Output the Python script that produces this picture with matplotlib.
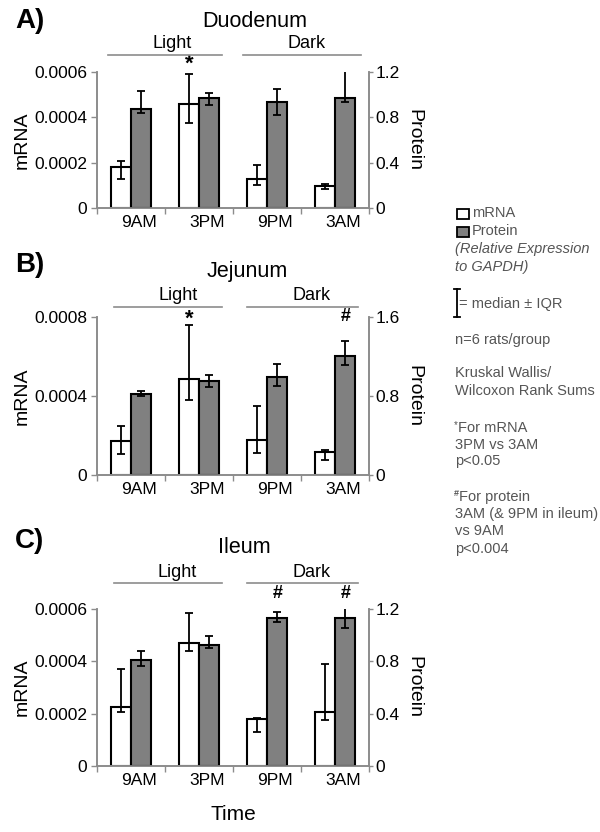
import numpy as np
import matplotlib
matplotlib.use("Agg")
import matplotlib.pyplot as plt
from matplotlib.transforms import ScaledTranslation
from matplotlib.patches import Rectangle
from matplotlib.lines import Line2D

plt.rcParams['font.family'] = ['Liberation Sans', 'DejaVu Sans']

times = ["9AM", "3PM", "9PM", "3AM"]
panels = ["A)", "B)", "C)"]
titles = ["Duodenum", "Jejunum", "Ileum"]

duo_mrna_med = [0.000182, 0.000459, 0.000129, 0.0000956]
duo_mrna_lo = [0.000126, 0.000375, 0.000100, 0.0000838]
duo_mrna_hi = [0.000206, 0.000591, 0.000191, 0.000107]
duo_prot_med = [0.874, 0.974, 0.935, 0.974]
duo_prot_lo = [0.838, 0.912, 0.824, 0.935]
duo_prot_hi = [1.029, 1.015, 1.050, 1.215]

jej_mrna_med = [0.000172, 0.000484, 0.000175, 0.000115]
jej_mrna_lo = [0.000108, 0.000378, 0.000112, 0.0000738]
jej_mrna_hi = [0.000249, 0.000760, 0.000348, 0.000129]
jej_prot_med = [0.824, 0.955, 0.989, 1.202]
jej_prot_lo = [0.800, 0.893, 0.903, 1.116]
jej_prot_hi = [0.848, 1.013, 1.123, 1.356]

ile_mrna_med = [0.000225, 0.000471, 0.000178, 0.000205]
ile_mrna_lo = [0.000205, 0.000439, 0.000130, 0.000174]
ile_mrna_hi = [0.000371, 0.000583, 0.000182, 0.000390]
ile_prot_med = [0.810, 0.922, 1.129, 1.129]
ile_prot_lo = [0.767, 0.899, 1.104, 1.052]
ile_prot_hi = [0.876, 0.994, 1.175, 1.243]

mrna_ticks = [[0, 0.0002, 0.0004, 0.0006], [0, 0.0004, 0.0008], [0, 0.0002, 0.0004, 0.0006]]
mrna_ticklabels = [["0", "0.0002", "0.0004", "0.0006"], ["0", "0.0004", "0.0008"], ["0", "0.0002", "0.0004", "0.0006"]]
prot_ticks = [[0, 0.4, 0.8, 1.2], [0, 0.8, 1.6], [0, 0.4, 0.8, 1.2]]
prot_ticklabels = [["0", "0.4", "0.8", "1.2"], ["0", "0.8", "1.6"], ["0", "0.4", "0.8", "1.2"]]

# significance marks: (panel, symbol, category index, series, y level)
sig_marks = [
    (0, "*", 1, "mrna", 0.000635),
    (1, "*", 1, "mrna", 0.000790),
    (1, "#", 3, "prot", 1.60),
    (2, "#", 2, "prot", 1.322),
    (2, "#", 3, "prot", 1.322),
]

legend_lines = [
    ("n=6 rats/group", 340),
    ("Kruskal Wallis/", 373),
    ("Wilcoxon Rank Sums", 391),
    ("3PM vs 3AM", 445),
    ("p<0.05", 461),
    ("3AM (& 9PM in ileum)", 514),
    ("vs 9AM", 531),
    ("p<0.004", 549),
]

mrna_data = [(duo_mrna_med, duo_mrna_lo, duo_mrna_hi),
             (jej_mrna_med, jej_mrna_lo, jej_mrna_hi),
             (ile_mrna_med, ile_mrna_lo, ile_mrna_hi)]
prot_data = [(duo_prot_med, duo_prot_lo, duo_prot_hi),
             (jej_prot_med, jej_prot_lo, jej_prot_hi),
             (ile_prot_med, ile_prot_lo, ile_prot_hi)]

W, H = 600, 832
fig = plt.figure(figsize=(6, 8.32), dpi=100)

def fx(x):
    return x / W

def fy(y):
    return 1 - y / H

# axes pixel boxes: left, right, top, bottom
boxes = [(97, 369, 72, 208), (97, 369, 317, 475), (97, 369, 609, 766)]
label_y = [28, 272, 548]
title_x = [255, 247, 244]
title_y = [27, 277, 553]
light_y = [48, 300, 577]
line_y = [55, 307, 583]
light_x = [172, 178, 177]
dark_x = [307, 312, 312]
light_lines = [(108, 222), (114, 222), (114, 222)]
dark_lines = [(243, 361), (247, 358), (247, 358)]

GRAY = "#808080"
SPINE = "#8c8c8c"
x = np.arange(len(times))
bw = 0.3

for p in range(3):
    l, r, t, b = boxes[p]
    ax = fig.add_axes([fx(l), fy(b), (r - l) / W, (b - t) / H])
    ax2 = ax.twinx()
    mmed, mlo, mhi = [np.array(v) for v in mrna_data[p]]
    pmed, plo, phi = [np.array(v) for v in prot_data[p]]
    ax.bar(x - bw / 2, mmed, bw, color="white", edgecolor="black", linewidth=1.5, zorder=2)
    ax.errorbar(x - bw / 2, mmed, yerr=[mmed - mlo, mhi - mmed], fmt="none", ecolor="black",
                elinewidth=1.3, capsize=3, capthick=1.3, zorder=3)
    ax2.bar(x + bw / 2, pmed, bw, color=GRAY, edgecolor="black", linewidth=1.5, zorder=2)
    ax2.errorbar(x + bw / 2, pmed, yerr=[pmed - plo, phi - pmed], fmt="none", ecolor="black",
                 elinewidth=1.3, capsize=3, capthick=1.3, zorder=3)
    ax.set_xlim(-0.5, len(times) - 0.5)
    ax.set_ylim(0, mrna_ticks[p][-1])
    ax2.set_ylim(0, prot_ticks[p][-1])
    ax.set_yticks(mrna_ticks[p], mrna_ticklabels[p])
    ax2.set_yticks(prot_ticks[p], prot_ticklabels[p])
    ax.set_xticks(np.arange(-0.5, len(times)), [])
    ax.set_xticks(x, times, minor=True)
    ax.tick_params(axis="x", which="major", direction="out", length=4, color=SPINE, width=1)
    ax.tick_params(axis="x", which="minor", length=0, pad=5, labelsize=12.5)
    ax.tick_params(axis="y", direction="out", length=4, color=SPINE, width=1, labelsize=12.5, pad=3)
    ax2.tick_params(axis="y", direction="out", length=3, color=SPINE, width=1, labelsize=12.5, pad=1.5)
    for lab in ax.get_xticklabels(minor=True):
        lab.set_transform(lab.get_transform() + ScaledTranslation(8 / 100, 0, fig.dpi_scale_trans))
    for a in (ax, ax2):
        a.spines["top"].set_visible(False)
        for s in ("left", "right", "bottom"):
            a.spines[s].set_color(SPINE)
            a.spines[s].set_linewidth(1.2)
    ax.set_ylabel("mRNA", fontsize=14)
    ax2.set_ylabel("Protein", fontsize=14, rotation=270, va="bottom")
    ax.yaxis.set_label_coords((31 - l) / (r - l), 0.5)
    ax2.yaxis.set_label_coords((405 - l) / (r - l), 0.5)

    for (pp, sym, ci, series, yv) in sig_marks:
        if pp != p:
            continue
        if series == "mrna":
            ax.text(ci - bw / 2, yv, sym, ha="center", va="center", fontsize=16 if sym == "*" else 13,
                    fontweight="bold", clip_on=False)
        else:
            ax2.text(ci + bw / 2, yv, sym, ha="center", va="center", fontsize=16 if sym == "*" else 13,
                     fontweight="bold", clip_on=False)

    fig.text(fx(15), fy(label_y[p]), panels[p], fontsize=20, fontweight="bold", ha="left", va="baseline")
    fig.text(fx(title_x[p]), fy(title_y[p]), titles[p], fontsize=15.5, ha="center", va="baseline")
    fig.text(fx(light_x[p]), fy(light_y[p]), "Light", fontsize=13, ha="center", va="baseline")
    fig.text(fx(dark_x[p]), fy(light_y[p]), "Dark", fontsize=13, ha="center", va="baseline")
    fig.add_artist(Line2D([fx(light_lines[p][0]), fx(light_lines[p][1])], [fy(line_y[p])] * 2,
                          color=SPINE, lw=1.2, transform=fig.transFigure))
    fig.add_artist(Line2D([fx(dark_lines[p][0]), fx(dark_lines[p][1])], [fy(line_y[p])] * 2,
                          color=SPINE, lw=1.2, transform=fig.transFigure))
    if p == 2:
        ax.set_xlabel("Time", fontsize=15, labelpad=12)

# legend block
LG = "#555555"
fs = 10.5
fig.add_artist(Rectangle((fx(457), fy(219)), 12 / W, 10 / H, facecolor="white", edgecolor="black",
                         lw=1.3, transform=fig.transFigure))
fig.add_artist(Rectangle((fx(457), fy(237)), 12 / W, 10 / H, facecolor=GRAY, edgecolor="black",
                         lw=1.3, transform=fig.transFigure))
fig.text(fx(472), fy(213), "mRNA", fontsize=fs, color=LG, va="center", ha="left")
fig.text(fx(472), fy(231), "Protein", fontsize=fs, color=LG, va="center", ha="left")
fig.text(fx(455), fy(249), "(Relative Expression", fontsize=fs, color=LG, va="center", ha="left", style="italic")
fig.text(fx(455), fy(267), "to GAPDH)", fontsize=fs, color=LG, va="center", ha="left", style="italic")
# I-bar symbol
fig.add_artist(Line2D([fx(457), fx(457)], [fy(289), fy(317)], color="black", lw=1.3, transform=fig.transFigure))
for yy in (289, 317):
    fig.add_artist(Line2D([fx(454), fx(460)], [fy(yy), fy(yy)], color="black", lw=1.3, transform=fig.transFigure))
fig.text(fx(459), fy(304), "= median ± IQR", fontsize=fs, color=LG, va="center", ha="left")
for txt, yy in legend_lines:
    fig.text(fx(455), fy(yy), txt, fontsize=fs, color=LG, va="center", ha="left")
fig.text(fx(454), fy(425), "*", fontsize=7, color=LG, va="center", ha="left")
fig.text(fx(458), fy(428), "For mRNA", fontsize=fs, color=LG, va="center", ha="left")
fig.text(fx(454), fy(494), "#", fontsize=6.5, color=LG, va="center", ha="left", fontweight="bold")
fig.text(fx(459), fy(497), "For protein", fontsize=fs, color=LG, va="center", ha="left")

fig.savefig("out.png", dpi=100)
